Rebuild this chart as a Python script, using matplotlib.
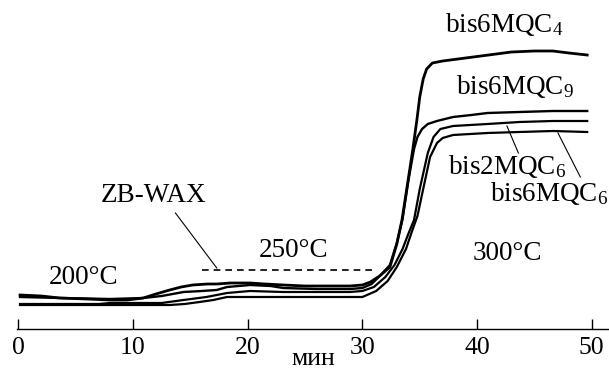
import numpy as np
import matplotlib
matplotlib.use('Agg')
import matplotlib.pyplot as plt

plt.rcParams['font.family'] = ['Liberation Serif', 'DejaVu Serif']
plt.rcParams['mathtext.default'] = 'regular'

# chromatograms (time in min, signal in arbitrary units)
t_c4 = [0.15, 2, 3.6, 6, 8, 9.5, 10.9, 12, 13.2, 14.2, 15.2, 16.5, 17.3, 18.5, 20.2, 21.5, 23.1, 25, 27, 28.9,
        30.0, 30.7, 31.5, 32.4, 33.0, 33.45, 34.0, 34.4, 34.75, 35.0, 35.3, 35.6, 36.1, 37, 39, 41, 43, 45, 46.6, 48, 49.6]
s_c4 = [34, 33, 31, 30, 29, 29, 31, 35, 39, 42, 44, 45, 45, 46, 46, 45, 44, 43, 43, 43,
        44, 47, 53, 62, 85, 109, 150, 180, 209, 232, 250, 260, 266, 268, 271, 274, 277, 278, 278, 276, 274]

t_c9 = [0.15, 3.6, 8, 10.9, 12.5, 14.4, 16, 17.3, 18.2, 20.2, 22, 23.1, 26, 28.9,
        30.0, 30.8, 31.6, 32.4, 33.0, 33.5, 34.0, 34.5, 34.8, 35.2, 35.7, 36.5, 37.9, 39.5, 40.9, 43.7, 46.6, 49.6]
s_c9 = [32, 31, 30, 31, 33, 37, 38, 39, 42, 44, 43, 41, 40, 40,
        41, 45, 54, 64, 86, 110, 148, 180, 192, 200, 205, 208, 212, 214, 216, 217, 218, 218]

t_2c6 = [0.15, 3.6, 7, 8, 10.9, 12.5, 14.4, 16.4, 18.2, 20.2, 23.1, 26, 28.9,
         30.0, 31.0, 32.0, 32.8, 33.5, 34.0, 34.5, 35.0, 35.7, 36.2, 36.8, 37.9, 40.9, 43.7, 46.6, 49.6]
s_2c6 = [25, 25, 25, 26, 26, 26, 29, 32, 36, 38, 37, 37, 37,
         38, 42, 52, 64, 80, 95, 109, 140, 176, 192, 200, 203, 205, 207, 208, 208]

t_6c6 = [0.15, 3.6, 7, 10.9, 13.2, 14.5, 15.8, 17, 18.2, 20.2, 23.1, 26, 29.5,
         30.0, 31.2, 32.2, 33.0, 33.8, 34.3, 34.8, 35.3, 35.9, 36.5, 37.0, 37.9, 40.9, 43.7, 46.6, 49.6]
s_6c6 = [24, 24, 24, 24, 24, 25, 27, 29, 32, 32, 32, 32, 32,
         32, 38, 48, 62, 80, 97, 113, 140, 172, 186, 191, 194, 196, 197, 198, 197]

# column limit (dashed)
limit_t = [16.0, 30.8]
limit_s = [59, 59]

fig = plt.figure(figsize=(6.09, 3.72), dpi=100)
ax = fig.add_axes([0.0282, 0.1156, 0.9718, 0.8844])

for t, s, lw in [(t_c4, s_c4, 2.0), (t_c9, s_c9, 1.7), (t_2c6, s_2c6, 1.6), (t_6c6, s_6c6, 1.6)]:
    ax.plot(t, s, color='black', lw=lw, solid_joinstyle='round')

ax.plot(limit_t, limit_s, color='black', lw=1.2, linestyle=(0, (4, 3)))

fs = 19.5
ax.text(42.4, 304, r'bis6MQC$_4$', fontsize=fs, ha='center', va='center')
ax.text(43.3, 242, r'bis6MQC$_9$', fontsize=fs, ha='center', va='center')
ax.text(42.6, 162, r'bis2MQC$_6$', fontsize=fs, ha='center', va='center')
ax.text(46.3, 135, r'bis6MQC$_6$', fontsize=fs, ha='center', va='center')
ax.plot([42.6, 43.6], [203, 176], color='black', lw=0.8)
ax.plot([47.05, 49.0], [196, 152], color='black', lw=0.8)

ax.text(11.75, 133, 'ZB-WAX', fontsize=fs, ha='center', va='center')
ax.plot([13.7, 17.3], [116, 61], color='black', lw=0.8)

ax.text(5.7, 51, '200°C', fontsize=fs, ha='center', va='center')
ax.text(24.0, 78, '250°C', fontsize=fs, ha='center', va='center')
ax.text(42.6, 75, '300°C', fontsize=fs, ha='center', va='center')

ax.set_xlim(-0.1, 51.5)
ax.set_ylim(0, 329)
for side in ['left', 'right', 'top']:
    ax.spines[side].set_visible(False)
ax.spines['bottom'].set_linewidth(1.0)
ax.set_yticks([])
ax.set_xticks([0, 10, 20, 30, 40, 50])
ax.tick_params(axis='x', direction='in', length=7.5, width=1.0, labelsize=18.5, pad=6)
ax.set_xlabel('мин', fontsize=18.5, labelpad=-8)
ax.patch.set_alpha(0)

plt.savefig('out.png', dpi=100)
